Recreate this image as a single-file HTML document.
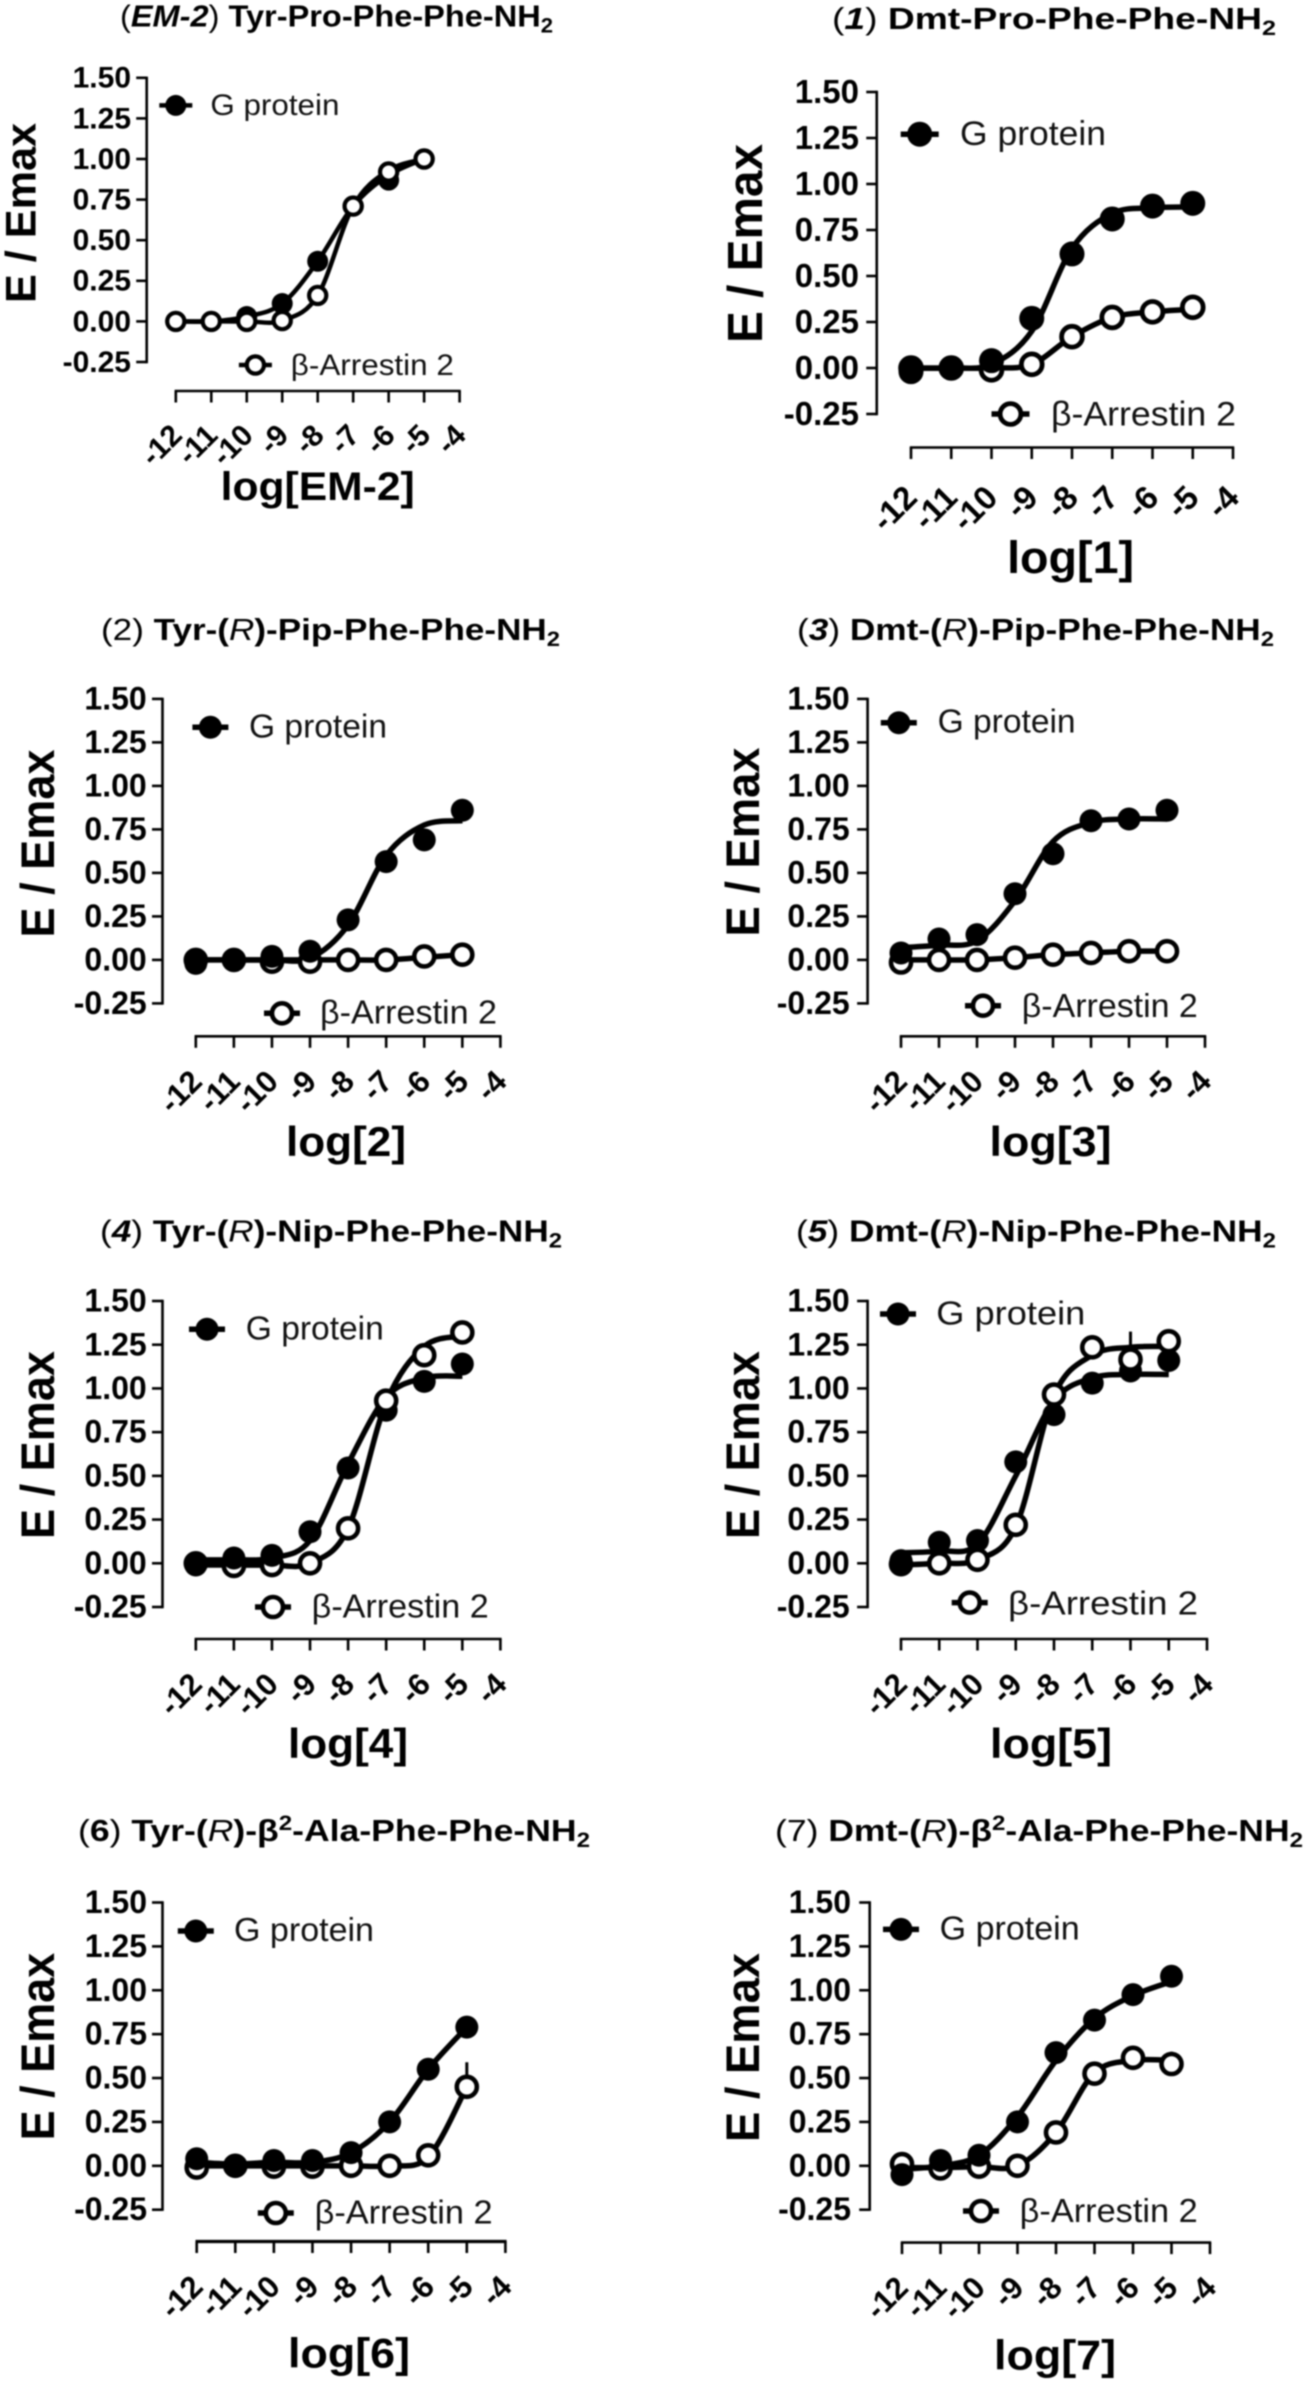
<!DOCTYPE html>
<html lang="en">
<head>
<meta charset="utf-8">
<title>E / Emax dose-response panels</title>
<style>
html,body{margin:0;padding:0;background:#fff;}
svg{display:block;font-family:"Liberation Sans",Arial,sans-serif;fill:#000;filter:blur(0.7px);}
.ttl{font-size:31px;font-weight:700;}
.ttl .r{font-weight:400;}
.ttl .i{font-style:italic;}
.ttl .sub{font-size:21px;}
.ttl .sup{font-size:21px;}
.yt{font-weight:700;}
.xt{font-weight:700;}
.lg{font-weight:400;fill:#111;}
</style>
</head>
<body>
<svg id="figure" xmlns="http://www.w3.org/2000/svg" width="1306" height="2383" viewBox="0 0 1306 2383">
<rect x="0" y="0" width="1306" height="2383" fill="#fff"/>

<!-- Panel titles -->
<text class="ttl" x="120" y="26.7" textLength="433" lengthAdjust="spacingAndGlyphs"><tspan class="r">(</tspan><tspan class="i">EM-2</tspan><tspan class="r">)</tspan> Tyr-Pro-Phe-Phe-NH<tspan class="sub" dy="6">2</tspan></text>
<text class="ttl" x="832" y="28.8" textLength="444" lengthAdjust="spacingAndGlyphs"><tspan class="r">(</tspan><tspan class="i">1</tspan><tspan class="r">)</tspan> Dmt-Pro-Phe-Phe-NH<tspan class="sub" dy="6">2</tspan></text>
<text class="ttl" x="101" y="640" textLength="459" lengthAdjust="spacingAndGlyphs"><tspan class="r">(2)</tspan> Tyr-(<tspan class="i r">R</tspan>)-Pip-Phe-Phe-NH<tspan class="sub" dy="6">2</tspan></text>
<text class="ttl" x="797" y="640" textLength="477" lengthAdjust="spacingAndGlyphs"><tspan class="r">(</tspan><tspan class="i">3</tspan><tspan class="r">)</tspan> Dmt-(<tspan class="i r">R</tspan>)-Pip-Phe-Phe-NH<tspan class="sub" dy="6">2</tspan></text>
<text class="ttl" x="100" y="1241.5" textLength="462" lengthAdjust="spacingAndGlyphs"><tspan class="r">(</tspan><tspan class="i">4</tspan><tspan class="r">)</tspan> Tyr-(<tspan class="i r">R</tspan>)-Nip-Phe-Phe-NH<tspan class="sub" dy="6">2</tspan></text>
<text class="ttl" x="796" y="1241.5" textLength="480" lengthAdjust="spacingAndGlyphs"><tspan class="r">(</tspan><tspan class="i">5</tspan><tspan class="r">)</tspan> Dmt-(<tspan class="i r">R</tspan>)-Nip-Phe-Phe-NH<tspan class="sub" dy="6">2</tspan></text>
<text class="ttl" x="78" y="1841" textLength="512" lengthAdjust="spacingAndGlyphs"><tspan class="r">(</tspan>6<tspan class="r">)</tspan> Tyr-(<tspan class="i r">R</tspan>)-β<tspan class="sup" dy="-11">2</tspan><tspan dy="11">-Ala-Phe-Phe-NH</tspan><tspan class="sub" dy="6">2</tspan></text>
<text class="ttl" x="775" y="1841" textLength="528" lengthAdjust="spacingAndGlyphs"><tspan class="r">(7)</tspan> Dmt-(<tspan class="i r">R</tspan>)-β<tspan class="sup" dy="-11">2</tspan><tspan dy="11">-Ala-Phe-Phe-NH</tspan><tspan class="sub" dy="6">2</tspan></text>

<!-- Y axis titles -->
<text class="yt" font-size="43" transform="translate(35.4 303) rotate(-90)" textLength="180" lengthAdjust="spacingAndGlyphs">E / Emax</text>
<text class="yt" font-size="49" transform="translate(762 343) rotate(-90)" textLength="199" lengthAdjust="spacingAndGlyphs">E / Emax</text>
<text class="yt" font-size="47" transform="translate(54 937.5) rotate(-90)" textLength="188" lengthAdjust="spacingAndGlyphs">E / Emax</text>
<text class="yt" font-size="47" transform="translate(759 936.5) rotate(-90)" textLength="189" lengthAdjust="spacingAndGlyphs">E / Emax</text>
<text class="yt" font-size="47" transform="translate(54 1539) rotate(-90)" textLength="188" lengthAdjust="spacingAndGlyphs">E / Emax</text>
<text class="yt" font-size="47" transform="translate(759 1539) rotate(-90)" textLength="188" lengthAdjust="spacingAndGlyphs">E / Emax</text>
<text class="yt" font-size="47" transform="translate(54 2140.4) rotate(-90)" textLength="187.5" lengthAdjust="spacingAndGlyphs">E / Emax</text>
<text class="yt" font-size="47" transform="translate(759 2142) rotate(-90)" textLength="189" lengthAdjust="spacingAndGlyphs">E / Emax</text>

<!-- X axis titles -->
<text class="xt" font-size="40" x="317.7" y="500" text-anchor="middle" textLength="194" lengthAdjust="spacingAndGlyphs">log[EM-2]</text>
<text class="xt" font-size="45" x="1070.6" y="573" text-anchor="middle" textLength="127" lengthAdjust="spacingAndGlyphs">log[1]</text>
<text class="xt" font-size="42" x="346" y="1156" text-anchor="middle" textLength="120" lengthAdjust="spacingAndGlyphs">log[2]</text>
<text class="xt" font-size="42" x="1050.5" y="1156" text-anchor="middle" textLength="122" lengthAdjust="spacingAndGlyphs">log[3]</text>
<text class="xt" font-size="42" x="348" y="1758" text-anchor="middle" textLength="120" lengthAdjust="spacingAndGlyphs">log[4]</text>
<text class="xt" font-size="42" x="1051" y="1758" text-anchor="middle" textLength="122" lengthAdjust="spacingAndGlyphs">log[5]</text>
<text class="xt" font-size="42" x="349" y="2367.6" text-anchor="middle" textLength="122" lengthAdjust="spacingAndGlyphs">log[6]</text>
<text class="xt" font-size="42" x="1055" y="2369.5" text-anchor="middle" textLength="122" lengthAdjust="spacingAndGlyphs">log[7]</text>

<!-- Legend labels -->
<text class="lg" font-size="30" x="210.4" y="115" textLength="129" lengthAdjust="spacingAndGlyphs">G protein</text>
<text class="lg" font-size="30" x="290.8" y="375" textLength="163" lengthAdjust="spacingAndGlyphs">β-Arrestin 2</text>
<text class="lg" font-size="34" x="960" y="145" textLength="146" lengthAdjust="spacingAndGlyphs">G protein</text>
<text class="lg" font-size="34" x="1051" y="425.6" textLength="185" lengthAdjust="spacingAndGlyphs">β-Arrestin 2</text>
<text class="lg" font-size="33" x="249" y="737.3" textLength="138" lengthAdjust="spacingAndGlyphs">G protein</text>
<text class="lg" font-size="33" x="320" y="1023.7" textLength="177" lengthAdjust="spacingAndGlyphs">β-Arrestin 2</text>
<text class="lg" font-size="33" x="937.6" y="732.3" textLength="138" lengthAdjust="spacingAndGlyphs">G protein</text>
<text class="lg" font-size="33" x="1021.8" y="1017" textLength="176" lengthAdjust="spacingAndGlyphs">β-Arrestin 2</text>
<text class="lg" font-size="33" x="245.8" y="1339.5" textLength="138" lengthAdjust="spacingAndGlyphs">G protein</text>
<text class="lg" font-size="33" x="311.7" y="1617.6" textLength="177" lengthAdjust="spacingAndGlyphs">β-Arrestin 2</text>
<text class="lg" font-size="33" x="936.3" y="1324.4" textLength="149" lengthAdjust="spacingAndGlyphs">G protein</text>
<text class="lg" font-size="33" x="1008" y="1614.6" textLength="190" lengthAdjust="spacingAndGlyphs">β-Arrestin 2</text>
<text class="lg" font-size="33" x="234" y="1940.8" textLength="140" lengthAdjust="spacingAndGlyphs">G protein</text>
<text class="lg" font-size="33" x="314.6" y="2223.7" textLength="178" lengthAdjust="spacingAndGlyphs">β-Arrestin 2</text>
<text class="lg" font-size="33" x="939.7" y="1939.6" textLength="140" lengthAdjust="spacingAndGlyphs">G protein</text>
<text class="lg" font-size="33" x="1019.7" y="2221.8" textLength="178" lengthAdjust="spacingAndGlyphs">β-Arrestin 2</text>
</svg>

<script>
// Shared axis values
const xTickValues = [-12, -11, -10, -9, -8, -7, -6, -5, -4];
const xTickLabels = ['-12', '-11', '-10', '-9', '-8', '-7', '-6', '-5', '-4'];
const yTickValues = [-0.25, 0, 0.25, 0.5, 0.75, 1, 1.25, 1.5];
const yTickLabels = ['-0.25', '0.00', '0.25', '0.50', '0.75', '1.00', '1.25', '1.50'];
const doseValues = [-12, -11, -10, -9, -8, -7, -6, -5];

// Panel EM-2
const em2GProtein = [0, 0, 0.03, 0.11, 0.37, 0.71, 0.87, 1.0];
const em2Arrestin = [0, 0, 0, 0.005, 0.16, 0.71, 0.92, 1.0];
const em2GFit = [0, 0, 0.03, 0.11, 0.37, 0.71, 0.9, 1.0];
const em2ArrestinFit = [0, 0, 0, 0.005, 0.16, 0.71, 0.93, 1.0];
const em2ArrestinErr = [0, 0, 0, 0, 0, 0, 0, 0];

// Panel 1
const p1GProtein = [-0.02, 0, 0.04, 0.27, 0.62, 0.81, 0.88, 0.895];
const p1Arrestin = [0, 0, -0.01, 0.02, 0.17, 0.275, 0.305, 0.33];
const p1GFit = [0, 0, 0.02, 0.2, 0.65, 0.84, 0.87, 0.875];
const p1ArrestinFit = [0, 0, 0, 0.02, 0.17, 0.275, 0.305, 0.32];
const p1ArrestinErr = [0, 0, 0, 0, 0, 0, 0, 0];

// Panel 2
const p2GProtein = [-0.02, 0, 0.02, 0.05, 0.23, 0.565, 0.69, 0.86];
const p2Arrestin = [0, 0, -0.01, -0.01, 0, 0, 0.02, 0.03];
const p2GFit = [0, 0, 0, 0.01, 0.2, 0.6, 0.775, 0.8];
const p2ArrestinFit = [0, 0, 0, 0, 0, 0, 0.015, 0.03];
const p2ArrestinErr = [0, 0, 0, 0, 0, 0, 0, 0];

// Panel 3
const p3GProtein = [0.04, 0.12, 0.145, 0.38, 0.61, 0.8, 0.81, 0.86];
const p3Arrestin = [-0.015, 0, 0, 0.013, 0.03, 0.04, 0.05, 0.05];
const p3GFit = [0.07, 0.085, 0.11, 0.34, 0.68, 0.79, 0.81, 0.81];
const p3ArrestinFit = [0, 0, 0, 0.013, 0.03, 0.04, 0.05, 0.05];
const p3ArrestinErr = [0, 0, 0, 0, 0, 0, 0, 0];

// Panel 4
const p4GProtein = [-0.01, 0.03, 0.045, 0.18, 0.545, 0.875, 1.04, 1.14];
const p4Arrestin = [0, -0.015, -0.01, 0, 0.2, 0.93, 1.19, 1.32];
const p4GFit = [0.02, 0.02, 0.03, 0.13, 0.57, 0.95, 1.06, 1.07];
const p4ArrestinFit = [-0.01, -0.01, -0.01, 0, 0.2, 0.92, 1.24, 1.3];
const p4ArrestinErr = [0, 0, 0, 0, 0, 0, 0, 0];

// Panel 5
const p5GProtein = [0.015, 0.12, 0.13, 0.58, 0.85, 1.03, 1.1, 1.16];
const p5Arrestin = [-0.005, 0, 0.02, 0.22, 0.965, 1.235, 1.165, 1.27];
const p5GFit = [0.06, 0.07, 0.11, 0.5, 0.93, 1.06, 1.08, 1.08];
const p5ArrestinFit = [-0.01, 0, 0.02, 0.21, 0.96, 1.19, 1.235, 1.24];
const p5ArrestinErr = [0, 0, 0, 0, 0, 0.07, 0.16, 0.02];

// Panel 6
const p6GProtein = [0.04, 0, 0.03, 0.03, 0.075, 0.25, 0.55, 0.79];
const p6Arrestin = [-0.01, 0, -0.005, -0.005, 0, 0, 0.06, 0.45];
const p6GFit = [0.02, 0.01, 0.02, 0.02, 0.075, 0.25, 0.55, 0.79];
const p6ArrestinFit = [0, 0, 0, 0, 0, 0, 0.05, 0.45];
const p6ArrestinErr = [0, 0, 0, 0, 0, 0, 0, 0.14];

// Panel 7
const p7GProtein = [-0.05, 0.03, 0.06, 0.25, 0.645, 0.83, 0.975, 1.08];
const p7Arrestin = [0.01, -0.015, -0.005, 0, 0.19, 0.525, 0.615, 0.58];
const p7GFit = [-0.02, 0, 0.06, 0.28, 0.6, 0.84, 0.97, 1.05];
const p7ArrestinFit = [-0.01, -0.01, -0.005, 0, 0.19, 0.53, 0.6, 0.6];
const p7ArrestinErr = [0, 0, 0, 0, 0, 0, 0, 0.07];

const svgNS = 'http://www.w3.org/2000/svg';
const figure = document.getElementById('figure');

function mk(tag, attrs, parent) {
  const el = document.createElementNS(svgNS, tag);
  for (const k in attrs) el.setAttribute(k, attrs[k]);
  parent.appendChild(el);
  return el;
}

function curvePath(pts) {
  let d = 'M' + pts[0][0] + ' ' + pts[0][1];
  for (let i = 0; i < pts.length - 1; i++) {
    const p0 = pts[Math.max(i - 1, 0)], p1 = pts[i], p2 = pts[i + 1], p3 = pts[Math.min(i + 2, pts.length - 1)];
    const c1x = p1[0] + (p2[0] - p0[0]) / 6, c1y = p1[1] + (p2[1] - p0[1]) / 6;
    const c2x = p2[0] - (p3[0] - p1[0]) / 6, c2y = p2[1] - (p3[1] - p1[1]) / 6;
    d += 'C' + c1x + ' ' + c1y + ' ' + c2x + ' ' + c2y + ' ' + p2[0] + ' ' + p2[1];
  }
  return d;
}

function drawPanel(key, L, gVals, bVals, gFit, bFit, bErr) {
  const unit = (L.yBottom - L.yTop) / 1.75;
  const yScale = v => L.yBottom - (v + 0.25) * unit;
  const xScale = v => L.xLeft + (v + 12) * (L.xRight - L.xLeft) / 8;
  const lw = L.lineWidth, rFilled = L.rFilled, rOpen = L.rOpen, sw = L.openStroke;

  const g = mk('g', {}, figure);
  
  

  // y axis
  const yLine = mk('line', { x1: L.axisX, x2: L.axisX, y1: L.yTop - 1.2, y2: L.yBottom + 1.2, stroke: '#000', 'stroke-width': 2.6 }, g);
  
  
  yTickValues.forEach((v, i) => {
    const ty = yScale(v);
    const tick = mk('line', { x1: L.axisX - 10.5, x2: L.axisX, y1: ty, y2: ty, stroke: '#000', 'stroke-width': 2.6 }, g);
    
    
    const lab = mk('text', { x: L.yLabelRight, y: ty + L.yFont * 0.345 - 0.5, 'text-anchor': 'end', 'font-size': L.yFont, 'font-weight': 700 }, g);
    lab.textContent = yTickLabels[i];
    
    
  });

  // x axis
  const xLine = mk('line', { x1: L.xLeft - 1.2, x2: L.xRight + 1.2, y1: L.axisY, y2: L.axisY, stroke: '#000', 'stroke-width': L.xAxisWidth }, g);
  
  
  xTickValues.forEach((v, i) => {
    const tx = xScale(v);
    const tick = mk('line', { x1: tx, x2: tx, y1: L.axisY, y2: L.axisY + 11.5, stroke: '#000', 'stroke-width': 2.6 }, g);
    
    
    const ax = tx + 8, ay = L.axisY + L.xLabelDy;
    const lab = mk('text', { x: ax, y: ay, 'text-anchor': 'end', 'font-size': L.xFont, 'font-weight': 700, transform: 'rotate(-45 ' + ax + ' ' + ay + ')' }, g);
    lab.textContent = xTickLabels[i];
    
    
  });

  // error bars
  doseValues.forEach((d, i) => {
    if (!bErr[i]) return;
    const x = xScale(d);
    const bar = mk('line', { x1: x, x2: x, y1: yScale(bVals[i]), y2: yScale(bVals[i] + bErr[i]), stroke: '#000', 'stroke-width': 3 }, g);
    
    
  });

  // fit curves
  const gCurve = mk('path', { d: curvePath(doseValues.map((d, i) => [xScale(d), yScale(gFit[i])])), fill: 'none', stroke: '#000', 'stroke-width': lw }, g);
  
  
  const bCurve = mk('path', { d: curvePath(doseValues.map((d, i) => [xScale(d), yScale(bFit[i])])), fill: 'none', stroke: '#000', 'stroke-width': lw }, g);
  
  

  // points
  function filled(i) {
    const c = mk('circle', { cx: xScale(doseValues[i]), cy: yScale(gVals[i]), r: rFilled, fill: '#000' }, g);
    
    
  }
  function open(i) {
    const c = mk('circle', { cx: xScale(doseValues[i]), cy: yScale(bVals[i]), r: rOpen, fill: '#fff', stroke: '#000', 'stroke-width': sw }, g);
    
    
  }
  doseValues.forEach((d, i) => {
    if (i <= L.filledTopUntil) { open(i); filled(i); }
    else { filled(i); open(i); }
  });

  // legend markers
  const lgLine = mk('line', { x1: L.legG[0] - L.legHalf, x2: L.legG[0] + L.legHalf, y1: L.legG[1], y2: L.legG[1], stroke: '#000', 'stroke-width': lw }, g);
  
  
  const lgDot = mk('circle', { cx: L.legG[0], cy: L.legG[1], r: rFilled, fill: '#000' }, g);
  
  
  const lbLine = mk('line', { x1: L.legB[0] - L.legHalf, x2: L.legB[0] + L.legHalf, y1: L.legB[1], y2: L.legB[1], stroke: '#000', 'stroke-width': lw }, g);
  
  
  const lbDot = mk('circle', { cx: L.legB[0], cy: L.legB[1], r: rOpen, fill: '#fff', stroke: '#000', 'stroke-width': sw }, g);
  
  
}

drawPanel('em2', { axisX: 146.7, yTop: 77.8, yBottom: 362, axisY: 391, xLeft: 175.8, xRight: 459.6, yLabelRight: 131, yFont: 30, xFont: 30, xLabelDy: 46, xAxisWidth: 2.6, lineWidth: 4.5, rFilled: 10.5, rOpen: 8.6, openStroke: 4.2, legHalf: 16.5, filledTopUntil: -1, legG: [175.8, 105.4], legB: [255.4, 365] }, em2GProtein, em2Arrestin, em2GFit, em2ArrestinFit, em2ArrestinErr);
drawPanel('1', { axisX: 876.75, yTop: 92, yBottom: 414, axisY: 447.5, xLeft: 911, xRight: 1233, yLabelRight: 859, yFont: 33, xFont: 33, xLabelDy: 52, xAxisWidth: 2.6, lineWidth: 5.5, rFilled: 12.5, rOpen: 10.4, openStroke: 4.8, legHalf: 19, filledTopUntil: 3, legG: [919.7, 134.2], legB: [1010.5, 414] }, p1GProtein, p1Arrestin, p1GFit, p1ArrestinFit, p1ArrestinErr);
drawPanel('2', { axisX: 162.5, yTop: 698.9, yBottom: 1003.4, axisY: 1036.3, xLeft: 195.8, xRight: 500.4, yLabelRight: 146.7, yFont: 32, xFont: 31, xLabelDy: 47, xAxisWidth: 2.6, lineWidth: 5.5, rFilled: 11.5, rOpen: 10, openStroke: 4.6, legHalf: 18, filledTopUntil: 3, legG: [210.4, 727.3], legB: [282, 1013.3] }, p2GProtein, p2Arrestin, p2GFit, p2ArrestinFit, p2ArrestinErr);
drawPanel('3', { axisX: 867.6, yTop: 698.9, yBottom: 1003.4, axisY: 1036.3, xLeft: 901, xRight: 1205, yLabelRight: 849.7, yFont: 32, xFont: 31, xLabelDy: 47, xAxisWidth: 2.6, lineWidth: 5.5, rFilled: 11.5, rOpen: 10, openStroke: 4.6, legHalf: 18, filledTopUntil: 3, legG: [898.8, 722.7], legB: [983, 1005.7] }, p3GProtein, p3Arrestin, p3GFit, p3ArrestinFit, p3ArrestinErr);
drawPanel('4', { axisX: 162.5, yTop: 1301, yBottom: 1607, axisY: 1639, xLeft: 195.8, xRight: 500.4, yLabelRight: 146.7, yFont: 32, xFont: 31, xLabelDy: 47, xAxisWidth: 2.6, lineWidth: 5.5, rFilled: 11.5, rOpen: 10, openStroke: 4.6, legHalf: 18, filledTopUntil: 3, legG: [207, 1329.3], legB: [273, 1607] }, p4GProtein, p4Arrestin, p4GFit, p4ArrestinFit, p4ArrestinErr);
drawPanel('5', { axisX: 867.6, yTop: 1301, yBottom: 1607, axisY: 1639, xLeft: 901, xRight: 1207, yLabelRight: 849.7, yFont: 32, xFont: 31, xLabelDy: 47, xAxisWidth: 2.6, lineWidth: 5.5, rFilled: 11.5, rOpen: 10, openStroke: 4.6, legHalf: 18, filledTopUntil: 3, legG: [898, 1314], legB: [969.7, 1602.6] }, p5GProtein, p5Arrestin, p5GFit, p5ArrestinFit, p5ArrestinErr);
drawPanel('6', { axisX: 162.5, yTop: 1902.5, yBottom: 2209.7, axisY: 2241.5, xLeft: 196.7, xRight: 505.4, yLabelRight: 147, yFont: 32, xFont: 31, xLabelDy: 47, xAxisWidth: 3.2, lineWidth: 5.5, rFilled: 11.5, rOpen: 10, openStroke: 4.6, legHalf: 18, filledTopUntil: 4, legG: [195.8, 1931], legB: [275.8, 2213] }, p6GProtein, p6Arrestin, p6GFit, p6ArrestinFit, p6ArrestinErr);
drawPanel('7', { axisX: 869.7, yTop: 1902.5, yBottom: 2209.7, axisY: 2242.6, xLeft: 902, xRight: 1210, yLabelRight: 851, yFont: 32, xFont: 31, xLabelDy: 47, xAxisWidth: 2.6, lineWidth: 5.5, rFilled: 11.5, rOpen: 10, openStroke: 4.6, legHalf: 18, filledTopUntil: 3, legG: [901, 1929.4], legB: [981, 2211] }, p7GProtein, p7Arrestin, p7GFit, p7ArrestinFit, p7ArrestinErr);
</script>
</body>
</html>
